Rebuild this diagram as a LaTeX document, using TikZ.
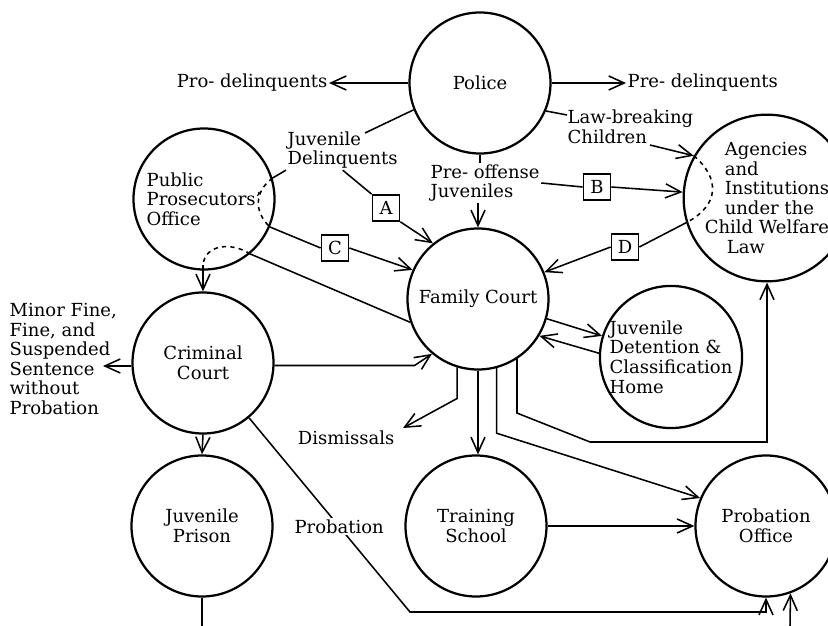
\documentclass[tikz,border=0pt]{standalone}
\usepackage{fontspec}
\setmainfont{DejaVu Serif}
\usetikzlibrary{arrows.meta,calc}
\tikzset {>={Straight Barb[length=11pt,width=10pt]}}
\newcommand*{\lbfont}{\fontsize{12.8}{13.9}\selectfont}
\tikzset{
  agency/.style={circle,draw,line width=1.6pt,minimum size=35.25mm,inner sep=0pt,align=center,font=\lbfont},
  route/.style={draw,line width=1.2pt,minimum width=6.75mm,minimum height=6.5mm,inner sep=0pt,font=\lbfont},
  lbl/.style={inner sep=1pt,align=left,font=\lbfont},
  flow/.style={line width=1.1pt}
}

\begin{document}
\begin{tikzpicture}[x=.25mm,y=-.25mm]
\useasboundingbox (0,0) rectangle (828,626);
% agencies
\node[agency] (pol) at (480,83) {Police};
\node[agency,align=left] (pp) at (204,199) {Public\\Prosecutors'\\Office};
\node[agency] (fc) at (478,299) {Family Court};
\node[agency,align=left] (ag) at (767,198) {\hspace*{5mm}Agencies\\\hspace*{5mm}and\\\hspace*{5mm}Institutions\\\hspace*{5mm}under the\\Child Welfare\\\hspace*{5.5mm}Law};
\node[agency,align=left] (jdc) at (671,357) {Juvenile\\Detention \&\\Classification\\Home};
\node[agency] (cc) at (203,363) {Criminal\\Court};
\node[agency] (jp) at (202,526) {Juvenile\\Prison};
\node[agency] (tr) at (476,526) {Training\\School};
\node[agency] (po) at (766,526) {Probation\\Office};
% labels
\node[lbl,anchor=east] (pdl) at (329,83) {Pro- delinquents};
\node[lbl,anchor=west] (pdr) at (626,83) {Pre- delinquents};
\node[lbl,anchor=west] (jd) at (286,150) {Juvenile\\Delinquents};
\node[lbl,anchor=west] (pre) at (429,183) {Pre- offense\\Juveniles};
\node[lbl,anchor=west] (lbc) at (566,127) {Law-breaking\\Children};
\node[lbl,anchor=west] (fine) at (8,359) {Minor Fine,\\Fine, and\\Suspended\\Sentence\\without\\Probation};
\node[lbl,anchor=east] (dis) at (396,438) {Dismissals};
\node[route] (A) at (386,208) {A};
\node[route] (B) at (597,187) {B};
\node[route] (C) at (335,248) {C};
\node[route] (D) at (625,247) {D};
\coordinate (jdin) at (365,133);
\coordinate (lbcin) at (567,115);
\coordinate (lbcout) at (650,145);
\coordinate (ppx) at (203,265);
\coordinate (finex) at (103,366);
\coordinate (disx) at (403,428);
\coordinate (jpx) at (202,626);
\coordinate (pox) at (790,626);
% from the police
\draw[flow,->] (pol.west) -- (pdl.east);
\draw[flow,->] (pol.east) -- (pdr.west);
\draw[flow] (pol.202) -- (jdin);
\draw[flow] (pol.south) -- (pol.south |- pre.north);
\draw[flow,->] (pre.south -| fc.north) -- (fc.north);
\draw[flow] (pol.337) -- (lbcin);
\draw[flow,->] (lbcout) -- (ag.150.6);
\draw[flow] (jd.south west) -- (pp.17);
\draw[flow,dashed] (pp.17) .. controls (254,192) and (254,212) .. (pp.-23);
\draw[flow] (pp.-23) -- (C.west);
\draw[flow,->] (C.east) -- (fc.156);
\draw[flow] (jd.south) -- (A.north west);
\draw[flow,->] (A.south east) -- (fc.129);
\draw[flow] (pre.east) -- (B.west);
\draw[flow,->] (B.east) -- (ag.176);
\draw[flow,dashed] (ag.150.6) .. controls (720,178) and (720,205) .. (ag.197);
\draw[flow] (ag.197) -- (D.east);
\draw[flow,->] (D.west) -- (fc.22.6);
% back through the prosecutors
\draw[flow] (fc.199.5) -- (pp.-50);
\draw[flow,dashed] (pp.-50) .. controls (232,242) and (205,244) .. (ppx);
\draw[flow,->] (ppx) -- (cc.north);
\draw[flow,->] (cc.-2) -- ++(140,0) -- (fc.230);
\draw[flow,->] (cc.west |- finex) -- (finex);
\draw[flow,->] (cc.south) -- (jp.north);
\draw[flow] (jp.south) -- (jpx);
\draw[flow,->] (cc.310) -- node[lbl,fill=white,pos=.56] (prl) {Probation} (410,612) -| (po.south);
% out of the family court
\draw[flow,->] (fc.253) -- ++(0,31) -- (disx);
\draw[flow,->] (fc.south) -- (fc.south |- tr.north);
\draw[flow,->] (fc.285) -- ++(0,65) -- (po.157);
\draw[flow,->] (fc.303) -- ++(0,54) -- (590,442) -| (ag.south);
\draw[flow,->] (fc.344.6) -- (jdc.163);
\draw[flow,->] (jdc.177) -- (fc.329.3);
\draw[flow,->] (tr.east) -- (po.west);
\draw[flow,->] (pox) -- (po.290);
\end{tikzpicture}
\end{document}
